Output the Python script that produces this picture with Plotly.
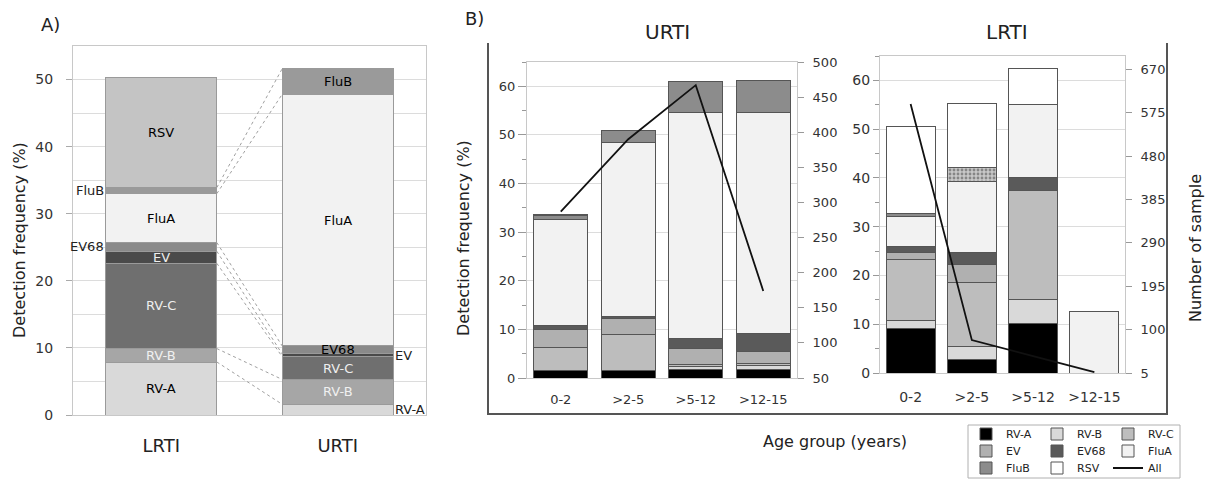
import plotly.graph_objects as go

W, H = 1207, 479


def px(x):
    return x / W


def py(y):
    return 1 - y / H


FONT = "DejaVu Sans"
TXT = "#333333"

viruses = ["RV-A", "RV-B", "RV-C", "EV", "EV68", "FluA", "FluB", "RSV"]

# ---------------- Panel A data ----------------
a_groups = ["LRTI", "URTI"]
a_lrti = [7.9, 2.0, 12.7, 1.8, 1.3, 7.3, 0.9, 16.4]
a_urti = [1.6, 3.7, 3.4, 0.4, 1.2, 37.5, 3.8, 0.0]
a_colors = ["#d9d9d9", "#a6a6a6", "#6f6f6f", "#4a4a4a", "#8a8a8a", "#f2f2f2", "#9a9a9a", "#c4c4c4"]

# ---------------- Panel B data ----------------
age_groups = ["0-2", ">2-5", ">5-12", ">12-15"]
urti_b = {
    "RV-A": [1.6, 1.6, 1.8, 1.8],
    "RV-B": [0.0, 0.0, 0.5, 0.7],
    "RV-C": [4.6, 7.4, 0.4, 0.5],
    "EV": [3.8, 3.3, 3.4, 2.4],
    "EV68": [0.7, 0.4, 2.1, 3.8],
    "FluA": [22.0, 35.8, 46.5, 45.5],
    "FluB": [0.7, 2.4, 6.3, 6.5],
    "RSV": [0.2, 0.0, 0.0, 0.0],
}
lrti_b = {
    "RV-A": [9.1, 2.8, 10.2, 0.0],
    "RV-B": [1.6, 2.7, 4.9, 0.0],
    "RV-C": [12.5, 13.0, 22.4, 0.0],
    "EV": [1.6, 3.8, 0.0, 0.0],
    "EV68": [1.2, 2.5, 2.6, 0.0],
    "FluA": [6.1, 14.5, 14.9, 12.7],
    "FluB": [0.6, 2.8, 0.0, 0.0],
    "RSV": [17.8, 13.1, 7.5, 0.0],
}
urti_all = [287, 390, 467, 174]
lrti_all = [594, 77, 42, 7]
b_colors = {
    "RV-A": "#000000", "RV-B": "#d9d9d9", "RV-C": "#bdbdbd", "EV": "#b0b0b0",
    "EV68": "#5a5a5a", "FluA": "#f2f2f2", "FluB": "#8c8c8c", "RSV": "#ffffff",
}
legend_rows = {"RV-A": "legend", "RV-B": "legend", "RV-C": "legend",
               "EV": "legend2", "EV68": "legend2", "FluA": "legend2",
               "FluB": "legend3", "RSV": "legend3", "All": "legend3"}

fig = go.Figure()

# ---------- Panel A bars ----------
A_WIDTH = 0.63
for i, v in enumerate(viruses):
    fig.add_trace(go.Bar(
        x=[0, 1], y=[a_lrti[i], a_urti[i]], width=A_WIDTH, name=v,
        marker=dict(color=a_colors[i], line=dict(color="#9a9a9a", width=1)),
        xaxis="x", yaxis="y", showlegend=False, hoverinfo="skip"))


def cum(vals):
    out, s = [], 0
    for v in vals:
        s += v
        out.append(s)
    return out


cl, cu = cum(a_lrti), cum(a_urti)
for k in range(7):
    fig.add_trace(go.Scatter(
        x=[A_WIDTH / 2, 1 - A_WIDTH / 2], y=[cl[k], cu[k]], mode="lines",
        line=dict(color="#a0a0a0", width=1, dash="dot"),
        xaxis="x", yaxis="y", showlegend=False, hoverinfo="skip"))

annotations = []


def seg_mid(vals, i):
    c = cum(vals)
    return c[i] - vals[i] / 2


lrti_inside = {"RV-A": "#000000", "RV-B": "#f0f0f0", "RV-C": "#eeeeee", "EV": "#eeeeee",
               "FluA": "#000000", "RSV": "#000000"}
urti_inside = {"RV-B": "#f0f0f0", "RV-C": "#eeeeee", "EV68": "#000000", "FluA": "#000000",
               "FluB": "#000000"}
for v, col in lrti_inside.items():
    i = viruses.index(v)
    annotations.append(dict(x=0, y=seg_mid(a_lrti, i), xref="x", yref="y", text=v,
                            showarrow=False, xanchor="center", yanchor="middle",
                            font=dict(family=FONT, size=13, color=col)))
for v, col in urti_inside.items():
    i = viruses.index(v)
    annotations.append(dict(x=1, y=seg_mid(a_urti, i), xref="x", yref="y", text=v,
                            showarrow=False, xanchor="center", yanchor="middle",
                            font=dict(family=FONT, size=13, color=col)))
for v in ["FluB", "EV68"]:
    i = viruses.index(v)
    annotations.append(dict(x=-A_WIDTH / 2, y=seg_mid(a_lrti, i), xref="x", yref="y", text=v,
                            showarrow=False, xanchor="right", yanchor="middle",
                            font=dict(family=FONT, size=13, color="#222")))
for v in ["EV", "RV-A"]:
    i = viruses.index(v)
    annotations.append(dict(x=1 + A_WIDTH / 2, y=seg_mid(a_urti, i), xref="x", yref="y", text=v,
                            showarrow=False, xanchor="left", yanchor="middle",
                            font=dict(family=FONT, size=13, color="#222")))

# ---------- Panel B bars ----------
for v in viruses:
    fig.add_trace(go.Bar(
        x=age_groups, y=urti_b[v], name=v, width=0.8,
        marker=dict(color=b_colors[v], line=dict(color="#555555", width=1)),
        xaxis="x2", yaxis="y2", legend=legend_rows[v], showlegend=True,
        legendgroup=v, hoverinfo="skip"))
for v in viruses:
    pattern = None
    if v == "FluB":
        pattern = dict(shape=["", ".", "", ""], fgcolor="#a8a8a8", bgcolor="#d0d0d0", size=4, solidity=0.4)
    fig.add_trace(go.Bar(
        x=age_groups, y=lrti_b[v], name=v, width=0.8,
        marker=dict(color=b_colors[v] if v != "FluB" else ["#8c8c8c", "#c8c8c8", "#8c8c8c", "#8c8c8c"],
                    line=dict(color="#555555", width=1), pattern=pattern),
        xaxis="x3", yaxis="y4", showlegend=False, legendgroup=v, hoverinfo="skip"))

fig.add_trace(go.Scatter(x=age_groups, y=urti_all, mode="lines", name="All",
                         line=dict(color="#111111", width=1.8), xaxis="x2", yaxis="y3",
                         legend="legend3", showlegend=True, hoverinfo="skip"))
fig.add_trace(go.Scatter(x=age_groups, y=lrti_all, mode="lines", name="All",
                         line=dict(color="#111111", width=1.8), xaxis="x3", yaxis="y5",
                         showlegend=False, hoverinfo="skip"))


def ann(x, y, text, size, angle=0, color="#222"):
    annotations.append(dict(x=px(x), y=py(y), xref="paper", yref="paper", text=text,
                            showarrow=False, textangle=angle, xanchor="center", yanchor="middle",
                            font=dict(family=FONT, size=size, color=color)))


ann(50, 24, "A)", 18)
ann(19, 240, "Detection frequency (%)", 16, angle=-90)
ann(474, 18, "B)", 18)
ann(667, 32, "URTI", 20)
ann(1007, 32, "LRTI", 20)
ann(463, 238, "Detection frequency (%)", 16, angle=-90)
ann(1196, 248, "Number of sample", 16, angle=-90)
ann(835, 441, "Age group (years)", 16)

LEG_X = 966
shapes = [
    dict(type="line", xref="paper", yref="paper", x0=px(488), x1=px(488), y0=py(43), y1=py(414),
         line=dict(color="#555555", width=2)),
    dict(type="line", xref="paper", yref="paper", x0=px(487), x1=px(1168), y0=py(414), y1=py(414),
         line=dict(color="#555555", width=2)),
    dict(type="line", xref="paper", yref="paper", x0=px(1167), x1=px(1167), y0=py(43), y1=py(414),
         line=dict(color="#555555", width=2)),
    dict(type="rect", xref="paper", yref="paper", x0=px(LEG_X + 2), x1=px(LEG_X + 214),
         y0=py(425), y1=py(478), line=dict(color="#b0b0b0", width=1)),
]

GRID = "#dcdcdc"
BOX = "#c8c8c8"
tick_font = dict(family=FONT, size=14, color=TXT)
tick_font_b = dict(family=FONT, size=13, color=TXT)

layout = dict(
    width=W, height=H, margin=dict(l=0, r=0, t=0, b=0, autoexpand=False),
    paper_bgcolor="white", plot_bgcolor="white",
    barmode="stack", annotations=annotations, shapes=shapes,
    font=dict(family=FONT, color=TXT),
    xaxis=dict(domain=[px(73), px(426)], range=[-0.5, 1.5], tickvals=[0, 1], ticktext=a_groups,
               showgrid=False, zeroline=False, showline=True, mirror=True, linecolor=BOX,
               ticks="", tickfont=dict(family=FONT, size=18, color="#222"), ticklabelstandoff=14,
               anchor="y", automargin=False),
    yaxis=dict(domain=[py(415), py(46)], range=[0, 55], tickvals=[0, 10, 20, 30, 40, 50],
               showgrid=True, gridcolor=GRID, zeroline=False, showline=True, mirror=True,
               linecolor=BOX, ticks="outside", ticklen=6, tickcolor="#aaaaaa",
               minor=dict(tickvals=[5, 15, 25, 35, 45, 55], showgrid=True, gridcolor=GRID, ticks=""),
               tickfont=tick_font, ticklabelstandoff=10, anchor="x", automargin=False),
    xaxis2=dict(domain=[px(527), px(797)], type="category", categoryorder="array",
                categoryarray=age_groups, showgrid=False, zeroline=False, showline=True,
                mirror=True, linecolor=BOX, ticks="", tickfont=tick_font_b,
                ticklabelstandoff=9, anchor="y2", automargin=False),
    yaxis2=dict(domain=[py(378), py(62)], range=[0, 65], tickvals=[0, 10, 20, 30, 40, 50, 60],
                showgrid=True, gridcolor=GRID, zeroline=False, showline=True, linecolor=BOX,
                ticks="outside", ticklen=8, tickcolor="#999999",
                minor=dict(dtick=5, ticks="outside", ticklen=4, tickcolor="#999999", showgrid=False),
                tickfont=tick_font_b, anchor="x2", automargin=False),
    yaxis3=dict(overlaying="y2", side="right", anchor="x2", range=[50, 500], dtick=50,
                showgrid=False, zeroline=False, showline=True, linecolor=BOX,
                ticks="outside", ticklen=6, tickcolor="#999999", tickfont=tick_font_b,
                ticklabelstandoff=6, automargin=False),
    xaxis3=dict(domain=[px(880), px(1125)], type="category", categoryorder="array",
                categoryarray=age_groups, showgrid=False, zeroline=False, showline=True,
                mirror=True, linecolor=BOX, ticks="", tickfont=dict(family=FONT, size=14, color=TXT),
                ticklabelstandoff=11, anchor="y4", automargin=False),
    yaxis4=dict(domain=[py(373), py(56)], range=[0, 65], tickvals=[0, 10, 20, 30, 40, 50, 60],
                showgrid=True, gridcolor=GRID, zeroline=False, showline=True, linecolor=BOX,
                ticks="outside", ticklen=6, tickcolor="#999999",
                minor=dict(dtick=5, ticks="outside", ticklen=4, tickcolor="#999999", showgrid=False),
                tickfont=dict(family=FONT, size=14, color=TXT), anchor="x3", automargin=False),
    yaxis5=dict(overlaying="y4", side="right", anchor="x3", range=[5, 699],
                tickvals=[5, 100, 195, 290, 385, 480, 575, 670],
                showgrid=False, zeroline=False, showline=True, linecolor=BOX,
                ticks="outside", ticklen=6, tickcolor="#999999",
                tickfont=dict(family=FONT, size=13, color=TXT), ticklabelstandoff=6,
                automargin=False),
)

leg_common = dict(orientation="h", xanchor="left", yanchor="middle", x=px(LEG_X),
                  bgcolor="rgba(0,0,0,0)", borderwidth=0, entrywidth=26, entrywidthmode="pixels",
                  traceorder="normal", font=dict(family=FONT, size=11, color="#222"),
                  itemwidth=30)
layout["legend"] = dict(leg_common, y=py(434))
layout["legend2"] = dict(leg_common, y=py(451))
layout["legend3"] = dict(leg_common, y=py(468))

fig.update_layout(**layout)
fig.write_html("out.html")
